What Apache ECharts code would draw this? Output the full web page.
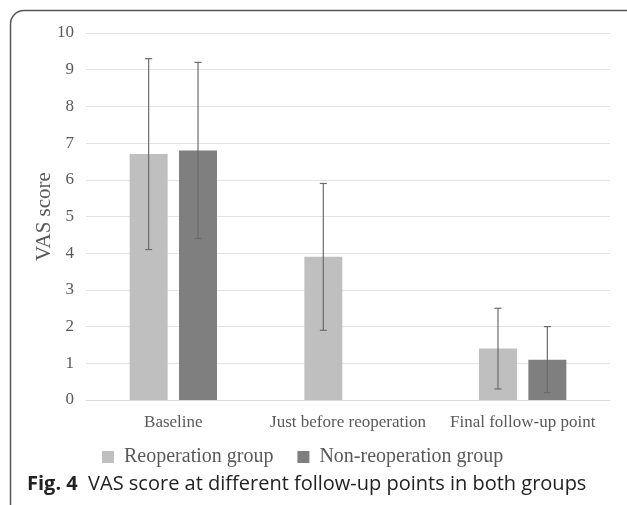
<!DOCTYPE html>
<html><head><meta charset="utf-8">
<script src="https://cdn.jsdelivr.net/npm/echarts@6/dist/echarts.min.js"></script>
<style>html,body{margin:0;padding:0;background:#fff}#c{width:627px;height:505px}</style>
</head><body><div id="c"></div>
<script>
var categories = ['Baseline', 'Just before reoperation', 'Final follow-up point'];
var seriesNames = ['Reoperation group', 'Non-reoperation group'];
var reopMean = [6.7, 3.9, 1.4];
var reopLow = [4.1, 1.9, 0.3];
var reopHigh = [9.3, 5.9, 2.5];
var nonMean = [6.8, null, 1.1];
var nonLow = [4.4, null, 0.2];
var nonHigh = [9.2, null, 2.0];
var yTicks = [0, 1, 2, 3, 4, 5, 6, 7, 8, 9, 10];

var serif = '"Liberation Serif", "Times New Roman", serif';
var chart = echarts.init(document.getElementById('c'));

function errData(low, high) {
  var out = [];
  for (var i = 0; i < categories.length; i++) {
    if (low[i] != null) out.push([i, low[i], high[i]]);
  }
  return out;
}
function makeErr(sign) {
  return function (params, api) {
    var idx = api.value(0);
    var bandW = api.size([1, 0])[0];
    var bw = bandW * 0.5 / 2.3;
    var off = sign * bw * 0.65;
    var lo = api.coord([idx, api.value(1)]);
    var hi = api.coord([idx, api.value(2)]);
    var x = lo[0] + off;
    var cap = 3.5;
    var st = { stroke: '#6b6b6b', lineWidth: 1.2 };
    return {
      type: 'group',
      children: [
        { type: 'line', shape: { x1: x, y1: lo[1], x2: x, y2: hi[1] }, style: st },
        { type: 'line', shape: { x1: x - cap, y1: lo[1], x2: x + cap, y2: lo[1] }, style: st },
        { type: 'line', shape: { x1: x - cap, y1: hi[1], x2: x + cap, y2: hi[1] }, style: st }
      ]
    };
  };
}

var borderStyle = { stroke: '#555', lineWidth: 1.5, fill: null };
chart.setOption({
  animation: false,
  backgroundColor: '#fff',
  title: {
    text: '{b|Fig. 4}  VAS score at different follow-up points in both groups',
    left: 22, top: 469,
    textStyle: {
      fontFamily: '"Open Sans", "Noto Sans", sans-serif', fontSize: 20, color: '#222', fontWeight: 'normal',
      rich: { b: { fontFamily: '"Open Sans", "Noto Sans", sans-serif', fontSize: 20, fontWeight: 'bold', color: '#222' } }
    }
  },
  legend: {
    data: seriesNames,
    left: 97, top: 442,
    icon: 'rect', itemWidth: 12, itemHeight: 12, itemGap: 24,
    textStyle: { fontFamily: serif, fontSize: 20, color: '#595959', padding: [0, 0, 0, 5] }
  },
  graphic: [
    { type: 'line', shape: { x1: 10.5, y1: 505, x2: 10.5, y2: 24 }, style: borderStyle },
    { type: 'arc', shape: { cx: 24, cy: 24, r: 13.5, startAngle: Math.PI, endAngle: Math.PI * 1.5 }, style: borderStyle },
    { type: 'line', shape: { x1: 24, y1: 10.5, x2: 627, y2: 10.5 }, style: borderStyle }
  ],
  grid: { left: 86, right: 17, top: 33, bottom: 105 },
  xAxis: {
    type: 'category', data: categories,
    axisLine: { lineStyle: { color: '#d9d9d9', width: 1 } },
    axisTick: { show: false },
    axisLabel: { interval: 0, fontFamily: serif, fontSize: 17, color: '#595959', margin: 14 }
  },
  yAxis: {
    type: 'value', min: 0, max: 10, interval: 1,
    name: 'VAS score', nameLocation: 'middle', nameGap: 31, nameMoveOverlap: false,
    nameTextStyle: { fontFamily: serif, fontSize: 21, color: '#595959' },
    axisLine: { show: false }, axisTick: { show: false },
    axisLabel: { fontFamily: serif, fontSize: 17, color: '#595959', margin: 12,
      formatter: function (v) { return yTicks.indexOf(v) >= 0 ? String(v) : ''; } },
    splitLine: { lineStyle: { color: '#e3e3e3', width: 1 } }
  },
  series: [
    { name: seriesNames[0], type: 'bar', data: reopMean, barCategoryGap: '50%', barGap: '30%',
      itemStyle: { color: '#bfbfbf' } },
    { name: seriesNames[1], type: 'bar', data: nonMean, barCategoryGap: '50%', barGap: '30%',
      itemStyle: { color: '#7f7f7f' } },
    { type: 'custom', renderItem: makeErr(-1), data: errData(reopLow, reopHigh), z: 10,
      encode: { x: 0, y: [1, 2] }, silent: true },
    { type: 'custom', renderItem: makeErr(1), data: errData(nonLow, nonHigh), z: 10,
      encode: { x: 0, y: [1, 2] }, silent: true }
  ]
});
</script></body></html>
